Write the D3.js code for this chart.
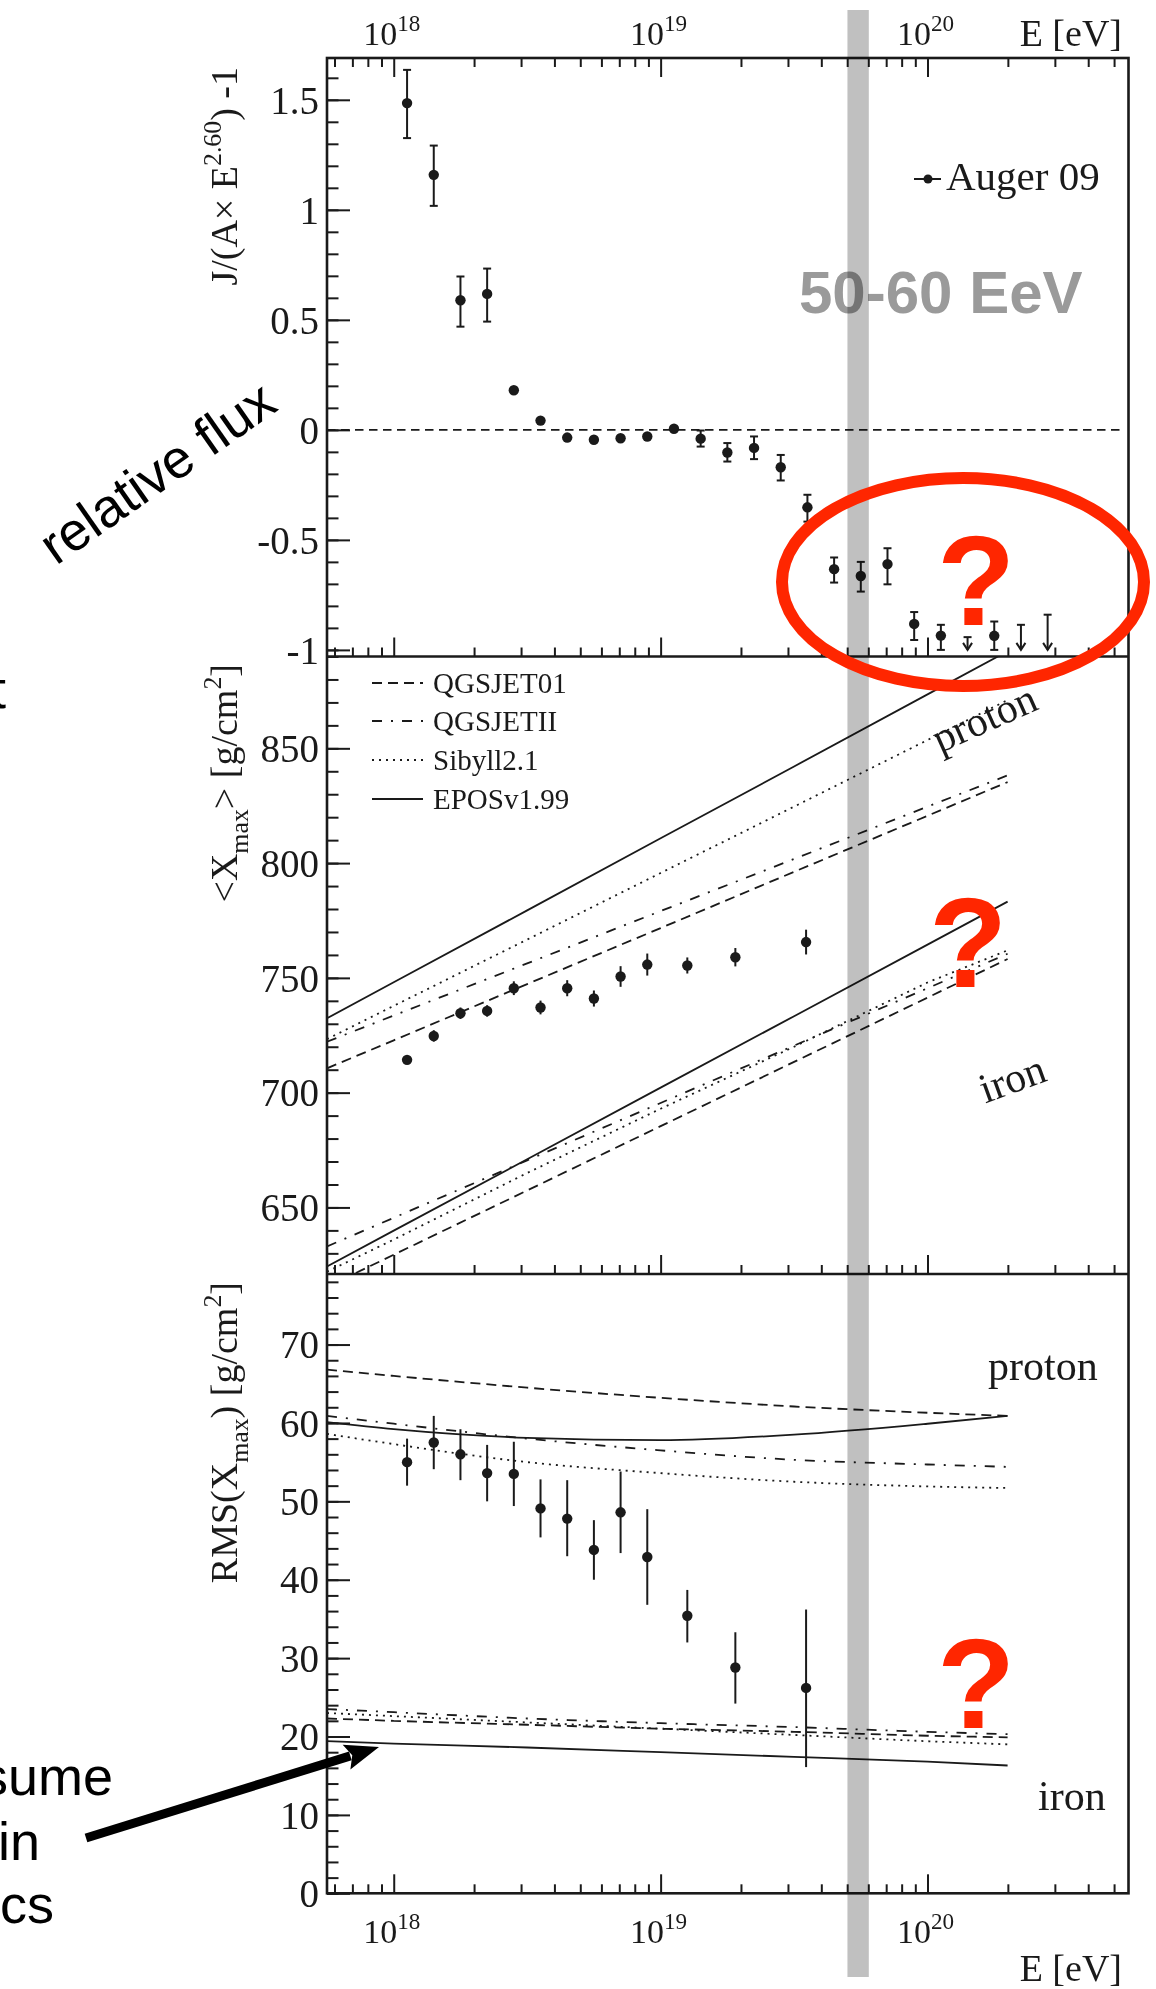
<!DOCTYPE html>
<html><head><meta charset="utf-8">
<script src="https://cdn.jsdelivr.net/npm/d3@7"></script>
<style>
html,body{margin:0;padding:0;background:#fff;}
svg{display:block;}
</style></head><body>
<svg id="c" width="1156" height="1989"></svg>
<script>
// ---------------- data (log10 E [eV]) ----------------
const fluxLgE = [18.05,18.15,18.25,18.35,18.45,18.55,18.65,18.75,18.85,18.95,19.05,19.15,19.25,19.35,19.45,19.55,19.65,19.75,19.85,19.95,20.05,20.25];
const fluxVal = [1.485,1.159,0.589,0.618,0.180,0.042,-0.035,-0.045,-0.038,-0.030,0.005,-0.040,-0.103,-0.082,-0.170,-0.352,-0.633,-0.664,-0.610,-0.882,-0.935,-0.936];
const fluxLo  = [1.326,1.018,0.469,0.492,0.170,0.032,-0.045,-0.055,-0.048,-0.040,-0.005,-0.076,-0.144,-0.133,-0.230,-0.417,-0.694,-0.735,-0.702,-0.955,-1.000,-1.000];
const fluxHi  = [1.636,1.292,0.697,0.733,0.190,0.052,-0.025,-0.035,-0.028,-0.020,0.015,-0.003,-0.060,-0.030,-0.114,-0.295,-0.580,-0.600,-0.538,-0.828,-0.886,-0.871];
const limitLgE = [20.15,20.35,20.45];
const limitVal = [-0.942,-0.886,-0.840];
const limitEnd = -1.0;

const xmaxLgE = [18.05,18.15,18.25,18.35,18.45,18.55,18.65,18.75,18.85,18.95,19.10,19.28,19.545];
const xmaxVal = [714.3,724.7,734.6,735.6,745.5,737.1,745.5,741.0,750.6,755.8,755.4,759.0,765.6];
const xmaxErr = [1.5,2.5,2.5,2.5,3.0,3.0,3.5,3.5,4.5,4.8,3.5,4.0,5.4];

const rmsLgE = [18.05,18.15,18.25,18.35,18.45,18.55,18.65,18.75,18.85,18.95,19.10,19.28,19.545];
const rmsVal = [55.0,57.5,56.0,53.6,53.5,49.1,47.8,43.8,48.6,42.9,35.4,28.8,26.2];
const rmsLo  = [52.0,54.1,52.7,50.0,49.4,45.4,43.0,40.0,43.4,36.8,32.0,24.2,16.1];
const rmsHi  = [58.0,60.9,59.2,57.2,57.6,52.8,52.7,47.6,53.8,49.0,38.7,33.3,36.2];

const modelNames = ["QGSJET01","QGSJETII","Sibyll2.1","EPOSv1.99"];
const modelDash  = ["10,6","10,9,2,9","2,5","none"];
const modelLgE   = [17.75,18.0,18.5,19.0,19.5,20.0,20.3];
const xmaxProton = [
  [710.6,722.8,747.3,771.7,796.2,820.6,835.3],
  [722.2,733.6,756.3,779.1,801.8,824.6,838.2],
  [723.3,737.8,766.7,795.7,824.6,853.6,871.0],
  [732.4,748.1,779.4,810.8,842.1,873.5,892.3]];
const xmaxIron = [
  [615.4,629.4,657.4,685.4,713.4,741.4,758.2],
  [633.0,645.5,670.5,695.5,720.5,745.5,760.5],
  [622.0,636.0,665.0,693.0,720.0,748.0,762.0],
  [624.3,639.9,671.0,702.2,733.3,764.5,783.2]];
const rmsProton = [
  [66.8,66.0,64.5,63.2,62.1,61.3,60.9],
  [60.9,59.9,58.0,56.5,55.3,54.7,54.4],
  [58.6,57.3,55.0,53.6,52.5,51.9,51.7],
  [60.1,59.2,58.1,57.8,58.5,59.9,60.9]];
const rmsIron = [
  [22.3,22.0,21.5,21.0,20.6,20.1,19.9],
  [23.5,23.1,22.3,21.7,21.2,20.6,20.3],
  [23.0,22.6,21.8,21.0,20.2,19.4,19.0],
  [19.4,19.1,18.6,18.0,17.4,16.8,16.3]];

const xMajor = [1e18,1e19,1e20];
const xMajorExp = ["18","19","20"];
const fluxTicks = [-1,-0.5,0,0.5,1,1.5];
const xmaxTicks = [650,700,750,800,850];
const rmsTicks  = [0,10,20,30,40,50,60,70];
const bandLgE = [19.70,19.78];

// ---------------- layout ----------------
const svg = d3.select("#c");
const serif = "'Liberation Serif','Times New Roman',serif";
const sans  = "'Liberation Sans',Arial,Helvetica,sans-serif";
const X0 = 327, X1 = 1128.5;
const x = d3.scaleLog().domain([Math.pow(10,17.75), Math.pow(10,20.753)]).range([X0, X1]);
const xe = lg => x(Math.pow(10, lg));

const P = [
  {top:58, bot:656.5, y:d3.scaleLinear().domain([-1.03,1.69]).range([656.5,58]), major:fluxTicks, minor:d3.range(-10,17).map(v=>v/10), fmt:d=>String(d)},
  {top:656.5, bot:1274, y:d3.scaleLinear().domain([621,890]).range([1274,656.5]), major:xmaxTicks, minor:d3.range(630,891,10), fmt:d=>String(d)},
  {top:1274, bot:1893.3, y:d3.scaleLinear().domain([0,79]).range([1893.3,1274]), major:rmsTicks, minor:d3.range(0,79,2), fmt:d=>String(d)}
];

const xMinor = [];
[17,18,19,20].forEach(e => { for (let m=2;m<=9;m++){ const v=m*Math.pow(10,e); if (v>=x.domain()[0] && v<=x.domain()[1]) xMinor.push(v);} });

const ink = "#1a1a1a";

const defs = svg.append("defs");
P.forEach((p,i)=>{
  defs.append("clipPath").attr("id","clip"+i).append("rect")
    .attr("x",X0).attr("y",p.top).attr("width",X1-X0).attr("height",p.bot-p.top);
});

function rich(sel, segs, size){
  let shift = 0;
  segs.forEach(s=>{
    const target = s.sub ? size*0.28 : (s.sup ? -size*0.42 : 0);
    sel.append("tspan").attr("dy", target-shift).attr("font-size", (s.sub||s.sup)? size*0.68 : size).text(s.t);
    shift = target;
  });
}

// ---------------- axes ----------------
P.forEach((p,i)=>{
  svg.append("g").attr("transform",`translate(${X0},0)`)
    .call(d3.axisLeft(p.y).tickValues(p.minor).tickSizeInner(-11.5).tickSizeOuter(0).tickFormat(""))
    .call(g=>{g.select(".domain").remove(); g.selectAll("line").attr("stroke",ink).attr("stroke-width",2);});
  svg.append("g").attr("transform",`translate(${X0},0)`)
    .call(d3.axisLeft(p.y).tickValues(p.major).tickSizeInner(-23).tickSizeOuter(0).tickPadding(8).tickFormat(p.fmt))
    .call(g=>{g.select(".domain").remove(); g.selectAll("line").attr("stroke",ink).attr("stroke-width",2);
      g.selectAll("text").attr("font-family",serif).attr("font-size",39).attr("fill",ink).attr("dy","0.34em");});
  svg.append("g").attr("transform",`translate(0,${p.bot})`)
    .call(d3.axisBottom(x).tickValues(xMinor).tickSizeInner(-9).tickSizeOuter(0).tickFormat(""))
    .call(g=>{g.select(".domain").remove(); g.selectAll("line").attr("stroke",ink).attr("stroke-width",2);});
  svg.append("g").attr("transform",`translate(0,${p.bot})`)
    .call(d3.axisBottom(x).tickValues(xMajor).tickSizeInner(-19).tickSizeOuter(0).tickFormat(""))
    .call(g=>{g.select(".domain").remove(); g.selectAll("line").attr("stroke",ink).attr("stroke-width",2);});
});
svg.append("g").attr("transform",`translate(0,${P[0].top})`)
  .call(d3.axisTop(x).tickValues(xMinor).tickSizeInner(-9).tickSizeOuter(0).tickFormat(""))
  .call(g=>{g.select(".domain").remove(); g.selectAll("line").attr("stroke",ink).attr("stroke-width",2);});
svg.append("g").attr("transform",`translate(0,${P[0].top})`)
  .call(d3.axisTop(x).tickValues(xMajor).tickSizeInner(-19).tickSizeOuter(0).tickFormat(""))
  .call(g=>{g.select(".domain").remove(); g.selectAll("line").attr("stroke",ink).attr("stroke-width",2);});

function xLabel(v, exp, base){
  const t = svg.append("text").attr("x", x(v)-2).attr("y", base).attr("text-anchor","middle")
    .attr("font-family",serif).attr("fill",ink);
  rich(t, [{t:"10"},{t:exp,sup:true}], 34);
}
xMajor.forEach((v,i)=>{ xLabel(v, xMajorExp[i], 45); xLabel(v, xMajorExp[i], 1943); });
svg.append("text").attr("x",1122).attr("y",46).attr("text-anchor","end").attr("font-family",serif)
  .attr("font-size",38).attr("fill",ink).text("E [eV]");
svg.append("text").attr("x",1122).attr("y",1981).attr("text-anchor","end").attr("font-family",serif)
  .attr("font-size",38).attr("fill",ink).text("E [eV]");

function yTitle(yEnd, segs){
  const t = svg.append("text").attr("transform",`translate(237,${yEnd}) rotate(-90)`)
    .attr("text-anchor","end").attr("font-family",serif).attr("fill",ink);
  rich(t, segs, 38);
}
yTitle(67, [{t:"J/(A× E"},{t:"2.60",sup:true},{t:") -1"}]);
yTitle(664, [{t:"<X"},{t:"max",sub:true},{t:"> [g/cm"},{t:"2",sup:true},{t:"]"}]);
yTitle(1282, [{t:"RMS(X"},{t:"max",sub:true},{t:") [g/cm"},{t:"2",sup:true},{t:"]"}]);

// ---------------- panel 1: relative flux ----------------
const y1 = P[0].y;
svg.append("line").attr("x1",X0).attr("x2",1120).attr("y1",y1(0)).attr("y2",y1(0))
  .attr("stroke",ink).attr("stroke-width",1.8).attr("stroke-dasharray","8.5,5.5");
const R = 5.2;
const g1 = svg.append("g");
fluxLgE.forEach((lg,i)=>{
  const cx = xe(lg), cy = y1(fluxVal[i]), yl = y1(fluxLo[i]), yh = y1(fluxHi[i]);
  if (yl-cy > R+1) {
    g1.append("line").attr("x1",cx).attr("x2",cx).attr("y1",cy).attr("y2",yl).attr("stroke",ink).attr("stroke-width",2);
    g1.append("line").attr("x1",cx-4).attr("x2",cx+4).attr("y1",yl).attr("y2",yl).attr("stroke",ink).attr("stroke-width",2);
  }
  if (cy-yh > R+1) {
    g1.append("line").attr("x1",cx).attr("x2",cx).attr("y1",cy).attr("y2",yh).attr("stroke",ink).attr("stroke-width",2);
    g1.append("line").attr("x1",cx-4).attr("x2",cx+4).attr("y1",yh).attr("y2",yh).attr("stroke",ink).attr("stroke-width",2);
  }
  g1.append("circle").attr("cx",cx).attr("cy",cy).attr("r",R).attr("fill",ink);
});
limitLgE.forEach((lg,i)=>{
  const cx = xe(lg), yt = y1(limitVal[i]), yb = y1(limitEnd);
  g1.append("line").attr("x1",cx-4).attr("x2",cx+4).attr("y1",yt).attr("y2",yt).attr("stroke",ink).attr("stroke-width",2);
  g1.append("line").attr("x1",cx).attr("x2",cx).attr("y1",yt).attr("y2",yb).attr("stroke",ink).attr("stroke-width",2);
  g1.append("path").attr("d",`M${cx-4.5},${yb-7}L${cx},${yb}L${cx+4.5},${yb-7}`).attr("fill","none").attr("stroke",ink).attr("stroke-width",2);
});
svg.append("line").attr("x1",914).attr("x2",941).attr("y1",179).attr("y2",179).attr("stroke",ink).attr("stroke-width",2);
svg.append("circle").attr("cx",928).attr("cy",179).attr("r",4.5).attr("fill",ink);
svg.append("text").attr("x",946).attr("y",190).attr("font-family",serif).attr("font-size",41).attr("fill",ink).text("Auger 09");

// ---------------- panel 2: <Xmax> ----------------
const line2 = d3.line().x((d,i)=>xe(modelLgE[i])).y(d=>P[1].y(d));
const gm2 = svg.append("g").attr("clip-path","url(#clip1)");
[xmaxProton, xmaxIron].forEach(set=>{
  set.forEach((vals,k)=>{
    gm2.append("path").attr("d",line2(vals)).attr("fill","none").attr("stroke",ink).attr("stroke-width",1.8)
      .attr("stroke-dasharray",modelDash[k]);
  });
});
const g2 = svg.append("g");
xmaxLgE.forEach((lg,i)=>{
  const cx = xe(lg), cy = P[1].y(xmaxVal[i]);
  g2.append("line").attr("x1",cx).attr("x2",cx).attr("y1",P[1].y(xmaxVal[i]-xmaxErr[i])).attr("y2",P[1].y(xmaxVal[i]+xmaxErr[i])).attr("stroke",ink).attr("stroke-width",2);
  g2.append("circle").attr("cx",cx).attr("cy",cy).attr("r",R).attr("fill",ink);
});
const legY = [683, 721, 760, 799];
modelNames.forEach((n,k)=>{
  svg.append("line").attr("x1",372).attr("x2",423).attr("y1",legY[k]).attr("y2",legY[k])
    .attr("stroke",ink).attr("stroke-width",1.8).attr("stroke-dasharray",modelDash[k]);
  svg.append("text").attr("x",433).attr("y",legY[k]+9.5).attr("font-family",serif).attr("font-size",29).attr("fill",ink).text(n);
});
svg.append("text").attr("transform","translate(990,731) rotate(-24)").attr("text-anchor","middle")
  .attr("font-family",serif).attr("font-size",42).attr("fill",ink).text("proton");
svg.append("text").attr("transform","translate(1017,1092) rotate(-20)").attr("text-anchor","middle")
  .attr("font-family",serif).attr("font-size",42).attr("fill",ink).text("iron");

// ---------------- panel 3: RMS ----------------
const line3 = d3.line().curve(d3.curveMonotoneX).x((d,i)=>xe(modelLgE[i])).y(d=>P[2].y(d));
const gm3 = svg.append("g").attr("clip-path","url(#clip2)");
[rmsProton, rmsIron].forEach(set=>{
  set.forEach((vals,k)=>{
    gm3.append("path").attr("d",line3(vals)).attr("fill","none").attr("stroke",ink).attr("stroke-width",1.8)
      .attr("stroke-dasharray",modelDash[k]);
  });
});
const g3 = svg.append("g");
rmsLgE.forEach((lg,i)=>{
  const cx = xe(lg), cy = P[2].y(rmsVal[i]);
  g3.append("line").attr("x1",cx).attr("x2",cx).attr("y1",P[2].y(rmsLo[i])).attr("y2",P[2].y(rmsHi[i])).attr("stroke",ink).attr("stroke-width",2);
  g3.append("circle").attr("cx",cx).attr("cy",cy).attr("r",R).attr("fill",ink);
});
svg.append("text").attr("x",988).attr("y",1380).attr("font-family",serif).attr("font-size",42).attr("fill",ink).text("proton");
svg.append("text").attr("x",1038).attr("y",1810).attr("font-family",serif).attr("font-size",42).attr("fill",ink).text("iron");

// frame
svg.append("rect").attr("x",X0).attr("y",P[0].top).attr("width",X1-X0).attr("height",P[2].bot-P[0].top)
  .attr("fill","none").attr("stroke",ink).attr("stroke-width",2.6);
[P[0].bot, P[1].bot].forEach(yy=>svg.append("line").attr("x1",X0).attr("x2",X1).attr("y1",yy).attr("y2",yy).attr("stroke",ink).attr("stroke-width",2.6));

// ---------------- annotations ----------------
svg.append("text").attr("x",799).attr("y",313).attr("font-family",sans).attr("font-weight","bold")
  .attr("font-size",60).attr("fill","#9a9a9a").text("50-60 EeV");
svg.append("rect").attr("x",xe(bandLgE[0])).attr("width",xe(bandLgE[1])-xe(bandLgE[0]))
  .attr("y",10).attr("height",1967).attr("fill","#c0c0c0").style("mix-blend-mode","multiply");

const red = "#ff2600";
svg.append("ellipse").attr("cx",963).attr("cy",582).attr("rx",181).attr("ry",104)
  .attr("fill","none").attr("stroke",red).attr("stroke-width",12);
[[976,625],[968,987],[976,1728]].forEach(p=>{
  svg.append("text").attr("x",p[0]).attr("y",p[1]).attr("text-anchor","middle").attr("font-family",sans)
    .attr("font-weight","bold").attr("font-size",128).attr("fill",red).text("?");
});

// slide text (cut at the left edge in the original)
svg.append("text").attr("transform","translate(56,566) rotate(-35)").attr("font-family",sans)
  .attr("font-size",54).attr("fill","#000").text("relative flux");
svg.append("text").attr("x",6).attr("y",708).attr("font-family",sans).attr("font-size",54).attr("fill","#000")
  .attr("text-anchor","end").text("t");
[["sume",1795,113],["in",1860,40],["cs",1923,54]].forEach(d=>{
  svg.append("text").attr("x",d[2]).attr("y",d[1]).attr("font-family",sans).attr("font-size",54).attr("fill","#000")
    .attr("text-anchor","end").text(d[0]);
});
// arrow
const tail=[86,1838], tip=[379,1747];
const ang = Math.atan2(tip[1]-tail[1], tip[0]-tail[0]);
const hl=34, hw=13;
const bx = tip[0]-hl*Math.cos(ang), by = tip[1]-hl*Math.sin(ang);
svg.append("line").attr("x1",tail[0]).attr("y1",tail[1]).attr("x2",bx+4*Math.cos(ang)).attr("y2",by+4*Math.sin(ang))
  .attr("stroke","#000").attr("stroke-width",9);
svg.append("path").attr("d",`M${tip[0]},${tip[1]}L${bx-hw*Math.sin(ang)},${by+hw*Math.cos(ang)}L${bx+6*Math.cos(ang)},${by+6*Math.sin(ang)}L${bx+hw*Math.sin(ang)},${by-hw*Math.cos(ang)}Z`)
  .attr("fill","#000");
</script>
</body></html>
